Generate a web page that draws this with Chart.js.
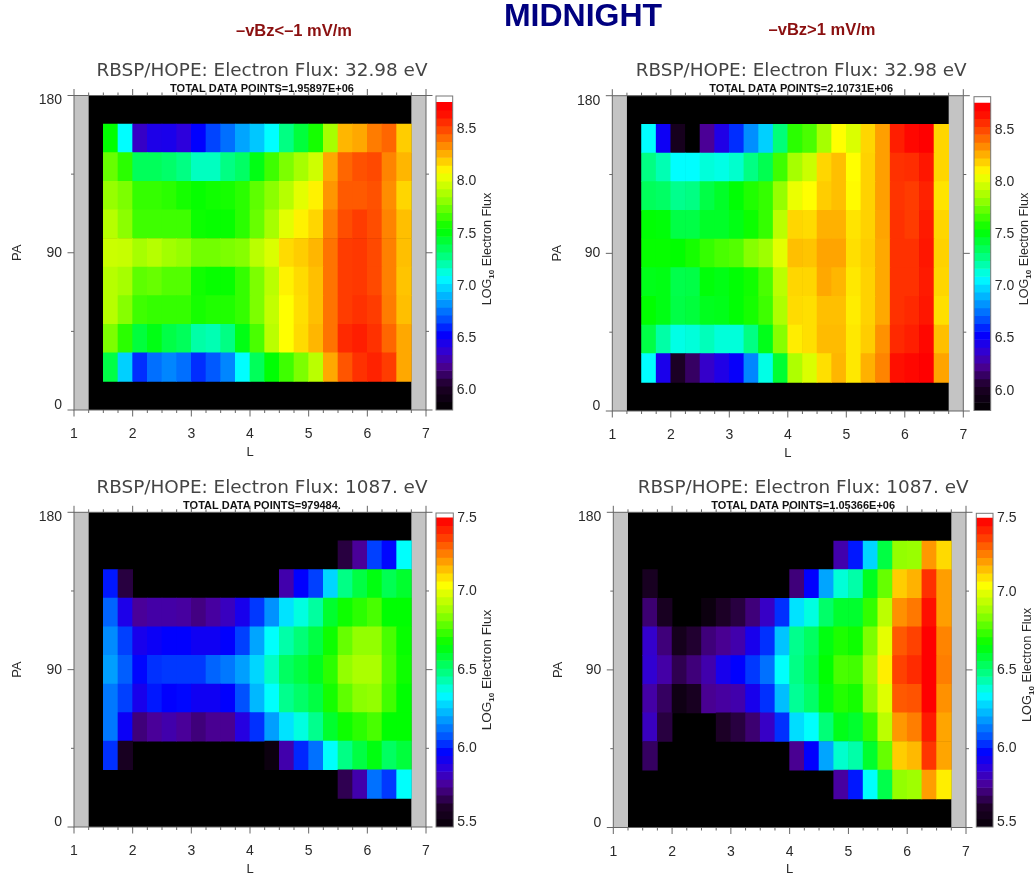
<!DOCTYPE html>
<html lang="en">
<head>
<meta charset="UTF-8">
<title>MIDNIGHT</title>
<script src="https://cdn.jsdelivr.net/npm/chart.js"></script>
<style>
    html, body { margin: 0; background: #fff; }
    #page { position: relative; width: 1034px; height: 876px; overflow: hidden; filter: blur(0.45px); }
    canvas { position: absolute; }
    .head { position: absolute; font-family: "Liberation Sans", sans-serif; font-weight: bold; white-space: nowrap; transform: translate(-50%, -50%); }
    .main { color: #000080; font-size: 32px; }
    .cond { color: #8b1010; font-size: 16.5px; }
</style>
</head>
<body>
<div id="page">
    <div class="head main" style="left:583px;top:15px">MIDNIGHT</div>
    <div class="head cond" style="left:294px;top:30px">–vBz&lt;–1 mV/m</div>
    <div class="head cond" style="left:822px;top:29px">–vBz&gt;1 mV/m</div>
</div>
<script>
const _ = null;

// bin centres in L, and lower PA edge of each row (rows below run from the top bin down)
const lCenters = [1.625, 1.875, 2.125, 2.375, 2.625, 2.875, 3.125, 3.375, 3.625, 3.875, 4.125, 4.375, 4.625, 4.875, 5.125, 5.375, 5.625, 5.875, 6.125, 6.375, 6.625];
const paEdges = [147.27, 130.91, 114.55, 98.18, 81.82, 65.45, 49.09, 32.73, 16.36];

// LOG10 flux, 32.98 eV, -vBz < -1
const fluxLowNeg = [
    [7.54, 7.08, 6.35, 6.45, 6.46, 6.40, 6.54, 6.66, 6.75, 6.87, 6.95, 7.08, 7.28, 7.42, 7.58, 7.87, 8.25, 8.28, 8.38, 8.43, 8.20],
    [7.74, 7.62, 7.36, 7.36, 7.33, 7.28, 7.18, 7.18, 7.28, 7.34, 7.50, 7.66, 7.78, 7.87, 7.97, 8.28, 8.43, 8.48, 8.50, 8.36, 8.25],
    [7.83, 7.78, 7.64, 7.64, 7.62, 7.58, 7.55, 7.57, 7.58, 7.62, 7.72, 7.81, 7.91, 8.02, 8.12, 8.32, 8.46, 8.46, 8.48, 8.34, 8.18],
    [7.91, 7.81, 7.66, 7.66, 7.66, 7.66, 7.56, 7.55, 7.55, 7.62, 7.74, 7.87, 8.02, 8.12, 8.18, 8.37, 8.49, 8.53, 8.49, 8.36, 8.23],
    [7.96, 7.95, 7.87, 7.91, 7.86, 7.83, 7.76, 7.76, 7.78, 7.80, 7.92, 8.00, 8.17, 8.20, 8.25, 8.40, 8.53, 8.54, 8.50, 8.37, 8.23],
    [7.91, 7.87, 7.72, 7.74, 7.70, 7.70, 7.57, 7.55, 7.55, 7.64, 7.78, 7.92, 8.12, 8.17, 8.23, 8.40, 8.53, 8.54, 8.50, 8.37, 8.22],
    [7.91, 7.80, 7.66, 7.64, 7.64, 7.64, 7.58, 7.60, 7.60, 7.64, 7.78, 7.94, 8.09, 8.16, 8.23, 8.40, 8.53, 8.56, 8.53, 8.38, 8.23],
    [7.78, 7.62, 7.42, 7.50, 7.40, 7.36, 7.22, 7.20, 7.28, 7.50, 7.68, 7.92, 8.09, 8.17, 8.25, 8.40, 8.58, 8.61, 8.56, 8.43, 8.28],
    [7.40, 6.97, 6.62, 6.75, 6.80, 6.75, 6.62, 6.70, 6.80, 7.08, 7.36, 7.53, 7.66, 7.78, 7.92, 8.28, 8.47, 8.56, 8.60, 8.53, 8.28]
];
// LOG10 flux, 32.98 eV, -vBz > 1
const fluxLowPos = [
    [7.08, 6.50, 5.98, 5.81, 6.24, 6.44, 6.62, 6.82, 6.97, 7.30, 7.62, 7.68, 7.87, 8.09, 8.00, 8.18, 8.30, 8.61, 8.67, 8.69, 8.18],
    [7.28, 7.20, 7.08, 7.08, 7.14, 7.12, 7.16, 7.28, 7.38, 7.66, 7.87, 7.96, 8.18, 8.23, 8.09, 8.19, 8.30, 8.56, 8.57, 8.63, 8.18],
    [7.36, 7.34, 7.26, 7.28, 7.40, 7.46, 7.53, 7.60, 7.64, 7.83, 8.04, 8.09, 8.20, 8.23, 8.10, 8.19, 8.30, 8.55, 8.53, 8.60, 8.15],
    [7.53, 7.52, 7.40, 7.40, 7.46, 7.46, 7.50, 7.56, 7.64, 7.92, 8.18, 8.17, 8.26, 8.26, 8.15, 8.19, 8.29, 8.56, 8.53, 8.62, 8.18],
    [7.55, 7.55, 7.54, 7.58, 7.64, 7.68, 7.70, 7.80, 7.85, 8.02, 8.23, 8.22, 8.29, 8.29, 8.16, 8.20, 8.28, 8.56, 8.56, 8.63, 8.19],
    [7.49, 7.50, 7.39, 7.40, 7.52, 7.50, 7.53, 7.57, 7.68, 7.92, 8.18, 8.18, 8.28, 8.25, 8.14, 8.19, 8.28, 8.56, 8.56, 8.62, 8.18],
    [7.54, 7.50, 7.40, 7.42, 7.48, 7.49, 7.53, 7.58, 7.66, 7.89, 8.17, 8.16, 8.23, 8.23, 8.13, 8.19, 8.28, 8.56, 8.58, 8.63, 8.16],
    [7.40, 7.22, 7.12, 7.14, 7.19, 7.14, 7.14, 7.28, 7.49, 7.80, 8.13, 8.16, 8.24, 8.24, 8.14, 8.20, 8.33, 8.58, 8.61, 8.67, 8.23],
    [7.08, 6.46, 6.02, 6.15, 6.36, 6.44, 6.52, 6.80, 7.12, 7.44, 7.89, 8.00, 8.16, 8.25, 8.14, 8.26, 8.36, 8.65, 8.67, 8.69, 8.29]
];
// LOG10 flux, 1087 eV, -vBz < -1
const fluxHighNeg = [
    [_, _, _, _, _, _, _, _, _, _, _, _, _, _, _, _, 5.66, 5.77, 6.05, 5.98, 6.35],
    [6.00, 5.66, _, _, _, _, _, _, _, _, _, _, 5.80, 5.97, 6.05, 6.28, 6.48, 6.57, 6.64, 6.55, 6.60],
    [6.10, 5.91, 5.77, 5.79, 5.79, 5.78, 5.74, 5.78, 5.83, 5.92, 6.04, 6.17, 6.30, 6.38, 6.45, 6.60, 6.68, 6.72, 6.76, 6.66, 6.66],
    [6.16, 6.05, 5.92, 5.95, 5.97, 5.97, 5.94, 5.94, 5.97, 6.05, 6.20, 6.35, 6.44, 6.50, 6.57, 6.68, 6.80, 6.86, 6.86, 6.76, 6.67],
    [6.19, 6.09, 5.98, 6.03, 6.04, 6.04, 6.04, 6.10, 6.13, 6.19, 6.28, 6.41, 6.53, 6.57, 6.62, 6.72, 6.86, 6.90, 6.90, 6.77, 6.68],
    [6.13, 6.05, 5.92, 6.00, 5.97, 5.98, 5.94, 5.94, 5.97, 6.07, 6.23, 6.35, 6.47, 6.52, 6.57, 6.69, 6.79, 6.85, 6.86, 6.75, 6.66],
    [6.13, 5.95, 5.73, 5.77, 5.80, 5.77, 5.73, 5.76, 5.76, 5.89, 6.03, 6.19, 6.30, 6.38, 6.47, 6.60, 6.68, 6.72, 6.76, 6.66, 6.66],
    [6.03, 5.60, _, _, _, _, _, _, _, _, _, 5.53, 5.80, 6.02, 6.12, 6.35, 6.48, 6.57, 6.64, 6.53, 6.58],
    [_, _, _, _, _, _, _, _, _, _, _, _, _, _, _, _, 5.68, 5.80, 6.12, 6.04, 6.35]
];
// LOG10 flux, 1087 eV, -vBz > 1
const fluxHighPos = [
    [_, _, _, _, _, _, _, _, _, _, _, _, _, 5.80, 6.00, 6.28, 6.57, 6.86, 6.87, 7.20, 7.10],
    [5.60, _, _, _, _, _, _, _, _, _, 5.73, 5.97, 6.20, 6.39, 6.44, 6.62, 6.80, 7.12, 7.16, 7.37, 7.19],
    [5.72, 5.60, _, _, 5.53, 5.62, 5.66, 5.73, 5.84, 6.03, 6.30, 6.38, 6.52, 6.60, 6.60, 6.73, 6.93, 7.21, 7.25, 7.43, 7.19],
    [5.85, 5.73, 5.58, 5.64, 5.73, 5.76, 5.80, 5.92, 6.03, 6.25, 6.47, 6.53, 6.64, 6.70, 6.68, 6.83, 7.00, 7.30, 7.34, 7.46, 7.23],
    [5.86, 5.79, 5.68, 5.73, 5.80, 5.92, 5.97, 6.04, 6.12, 6.35, 6.48, 6.55, 6.66, 6.76, 6.75, 6.88, 7.07, 7.34, 7.38, 7.46, 7.24],
    [5.79, 5.70, 5.55, 5.60, 5.76, 5.78, 5.80, 5.92, 6.03, 6.24, 6.46, 6.52, 6.64, 6.71, 6.69, 6.85, 6.99, 7.30, 7.31, 7.46, 7.21],
    [5.83, 5.66, _, _, _, 5.62, 5.66, 5.72, 5.84, 6.03, 6.29, 6.35, 6.50, 6.63, 6.60, 6.73, 6.93, 7.20, 7.24, 7.41, 7.18],
    [5.70, _, _, _, _, _, _, _, _, _, 5.76, 5.97, 6.20, 6.40, 6.44, 6.60, 6.80, 7.12, 7.15, 7.36, 7.18],
    [_, _, _, _, _, _, _, _, _, _, _, _, _, 5.78, 6.00, 6.35, 6.56, 6.86, 6.88, 7.19, 7.07]
];

// colour bar levels
const barLevelsLow = [5.848, 5.924, 6.0, 6.075, 6.151, 6.226, 6.302, 6.378, 6.453, 6.529, 6.605, 6.68, 6.756, 6.831, 6.907, 6.983, 7.058, 7.134, 7.21, 7.285, 7.361, 7.436, 7.512, 7.588, 7.663, 7.739, 7.815, 7.89, 7.966, 8.041, 8.117, 8.193, 8.268, 8.344, 8.42, 8.495, 8.571, 8.646, 8.722];
const barLevelsHigh = [5.525, 5.576, 5.626, 5.677, 5.727, 5.778, 5.828, 5.879, 5.929, 5.98, 6.03, 6.081, 6.131, 6.182, 6.232, 6.283, 6.333, 6.384, 6.434, 6.485, 6.535, 6.586, 6.636, 6.687, 6.737, 6.788, 6.838, 6.889, 6.939, 6.99, 7.04, 7.091, 7.141, 7.192, 7.242, 7.293, 7.343, 7.394, 7.444];

// rainbow + white colour table
const cmapStops = [0, 0.08, 0.146, 0.2, 0.248, 0.295, 0.363, 0.431, 0.492, 0.586, 0.685, 0.773, 0.814, 0.858, 0.922, 0.976];
const cmapColors = [[0, 0, 0], [30, 0, 40], [75, 0, 150], [45, 0, 220], [0, 0, 255], [0, 80, 255], [0, 170, 255], [0, 255, 255], [0, 255, 140], [0, 255, 0], [150, 255, 0], [255, 255, 0], [255, 200, 0], [255, 140, 0], [255, 60, 0], [255, 0, 0]];

function cmap(v, lo, hi) {
    const t = Math.min(Math.max((v - lo) / (hi - lo), 0), 1);
    let i = 0;
    while (i < cmapStops.length - 2 && t > cmapStops[i + 1]) i++;
    const f = Math.min((t - cmapStops[i]) / (cmapStops[i + 1] - cmapStops[i]), 1);
    const c = cmapColors[i].map((a, k) => Math.round(a + (cmapColors[i + 1][k] - a) * f));
    return `rgb(${c[0]},${c[1]},${c[2]})`;
}

const INK = '#2a2a2a';
const AXIS = '#666';
const FONT = '"Liberation Sans", sans-serif';

// Background, frame, outward ticks and y labels of a heat map
const heatFrame = {
    id: 'heatFrame',
    beforeDatasetsDraw(chart) {
        const { ctx, chartArea: a, scales: { x } } = chart;
        ctx.save();
        ctx.fillStyle = '#c4c4c4';
        ctx.fillRect(a.left, a.top, a.width, a.height);
        ctx.fillStyle = '#000';
        ctx.fillRect(x.getPixelForValue(1.25), a.top, x.getPixelForValue(6.75) - x.getPixelForValue(1.25), a.height);
        ctx.restore();
    },
    afterDatasetsDraw(chart) {
        const { ctx, chartArea: a, scales: { x, y } } = chart;
        ctx.save();
        ctx.strokeStyle = AXIS;
        ctx.lineWidth = 1;
        ctx.strokeRect(a.left, a.top, a.width, a.height);
        ctx.beginPath();
        x.ticks.forEach(t => {
            const px = x.getPixelForValue(t.value);
            const len = Number.isInteger(t.value) ? 6.5 : 3;
            ctx.moveTo(px, a.top); ctx.lineTo(px, a.top - len);
            ctx.moveTo(px, a.bottom); ctx.lineTo(px, a.bottom + len);
        });
        y.ticks.forEach(t => {
            const py = y.getPixelForValue(t.value);
            const len = t.value % 90 === 0 ? 6.5 : 3;
            ctx.moveTo(a.left, py); ctx.lineTo(a.left - len, py);
            ctx.moveTo(a.right, py); ctx.lineTo(a.right + len, py);
        });
        ctx.stroke();
        // 0 and 180 sit inside the axis ends, as in the plot
        ctx.fillStyle = INK;
        ctx.font = '14px ' + FONT;
        ctx.textAlign = 'right';
        ctx.textBaseline = 'middle';
        y.ticks.filter(t => t.value % 90 === 0).forEach(t => {
            const shift = t.value === 180 ? 5 : t.value === 0 ? -4.5 : 0;
            ctx.fillText(String(t.value), a.left - 12, y.getPixelForValue(t.value) + shift);
        });
        ctx.restore();
    }
};

// Frame, labels and rotated caption of a colour bar
const barFrame = {
    id: 'barFrame',
    afterDatasetsDraw(chart, args, opts) {
        const { ctx, chartArea: a, scales: { y } } = chart;
        ctx.save();
        ctx.strokeStyle = '#777';
        ctx.strokeRect(a.left, a.top, a.width, a.height);
        ctx.fillStyle = INK;
        ctx.font = '14px ' + FONT;
        ctx.textAlign = 'left';
        ctx.textBaseline = 'middle';
        y.ticks.forEach(t => {
            const shift = t.value === y.max ? 5 : t.value === y.min ? -5 : 0;
            ctx.fillText(t.value.toFixed(1), a.right + 4, y.getPixelForValue(t.value) + shift);
        });
        ctx.translate(opts.captionX, opts.captionY);
        ctx.rotate(-Math.PI / 2);
        ctx.textAlign = 'left';
        ctx.textBaseline = 'alphabetic';
        const big = opts.captionSize + 'px ';
        const parts = [['LOG', big, 0], ['10', 'bold 8px ', 3], [' Electron Flux', big, 0]];
        let total = 0;
        parts.forEach(([text, font]) => {
            ctx.font = font + FONT;
            total += ctx.measureText(text).width;
        });
        let cx = -total / 2;
        parts.forEach(([text, font, drop]) => {
            ctx.font = font + FONT;
            ctx.fillText(text, cx, 4 + drop);
            cx += ctx.measureText(text).width;
        });
        ctx.restore();
    }
};

function addCanvas(left, top, width, height) {
    const c = document.createElement('canvas');
    c.width = width;
    c.height = height;
    c.style.left = left + 'px';
    c.style.top = top + 'px';
    document.getElementById('page').appendChild(c);
    return c;
}

function drawHeatMap(p) {
    const canvasLeft = Math.floor(p.left) - 64;
    const canvasTop = Math.floor(p.top) - 40;
    const canvasBottom = Math.ceil(p.bottom) + 52;
    const canvas = addCanvas(canvasLeft, canvasTop, Math.round(2 * p.titleX - 2 * canvasLeft), canvasBottom - canvasTop);
    const cells = [];
    p.rows.forEach((row, r) => row.forEach((v, c) => {
        if (v !== null) cells.push({ x: lCenters[c], y: [paEdges[r], paEdges[r] + 16.36], v });
    }));
    new Chart(canvas, {
        type: 'bar',
        data: { datasets: [{
            data: cells,
            backgroundColor: ctx => cmap(ctx.raw.v, p.lo, p.hi),
            borderWidth: 0,
            barPercentage: 1,
            categoryPercentage: 1,
            grouped: false
        }] },
        plugins: [heatFrame],
        options: {
            responsive: false,
            animation: false,
            events: [],
            layout: {
                autoPadding: false,
                padding: {
                    left: p.left - canvasLeft - 64,
                    top: p.top - canvasTop - 34,
                    right: 0,
                    bottom: canvasBottom - p.bottom - 50
                }
            },
            plugins: {
                legend: { display: false },
                tooltip: { enabled: false },
                title: {
                    display: true, text: p.title, color: '#444',
                    font: { family: '"DejaVu Sans", sans-serif', size: 18.4, weight: 'normal', lineHeight: '20px' },
                    padding: { top: 0, bottom: 2 }
                },
                subtitle: {
                    display: true, text: p.points, color: '#111',
                    font: { family: FONT, size: 11, weight: 'bold', lineHeight: '11px' },
                    padding: { top: 0, bottom: 1 }
                }
            },
            scales: {
                x: {
                    type: 'linear', min: 1, max: 7, offset: false,
                    afterFit: s => { s.height = 50; },
                    grid: { display: false }, border: { display: false },
                    ticks: {
                        stepSize: 0.25, autoSkip: false, maxRotation: 0, padding: 8, color: INK,
                        font: { family: FONT, size: 14 },
                        callback: v => Number.isInteger(v) ? String(v) : ''
                    },
                    title: { display: true, text: 'L', color: INK, font: { family: FONT, size: 13, lineHeight: '14px' }, padding: 1 }
                },
                y: {
                    type: 'linear', min: 0, max: 180,
                    afterFit: s => { s.width = 64; },
                    grid: { display: false }, border: { display: false },
                    ticks: { stepSize: 45, display: false },
                    title: { display: true, text: 'PA', color: INK, font: { family: FONT, size: 13, lineHeight: '14px' }, padding: p.paPad }
                },
                // empty axis that keeps room for the colour bar, so the titles centre on the whole block
                spare: {
                    type: 'linear', axis: 'y', position: 'right',
                    afterFit: s => { s.width = canvas.width - (p.right - canvasLeft); },
                    grid: { display: false }, border: { display: false },
                    ticks: { display: false }
                }
            }
        }
    });
}

function drawColorBar(p) {
    const b = p.bar;
    const canvasLeft = Math.floor(b.left) - 4;
    const canvasTop = Math.floor(b.top) - 6;
    const canvasRight = Math.min(1034, Math.ceil(b.right) + 48);
    const canvasBottom = Math.ceil(b.bottom) + 6;
    const canvas = addCanvas(canvasLeft, canvasTop, canvasRight - canvasLeft, canvasBottom - canvasTop);
    new Chart(canvas, {
        type: 'bar',
        data: { datasets: [{
            data: b.levels.map(v => ({ y: v, x: [0, 1] })),
            backgroundColor: ctx => cmap(ctx.raw.y, p.lo, p.hi),
            borderWidth: 0,
            barPercentage: 1,
            categoryPercentage: 1,
            grouped: false
        }] },
        plugins: [barFrame],
        options: {
            indexAxis: 'y',
            responsive: false,
            animation: false,
            events: [],
            layout: {
                autoPadding: false,
                padding: {
                    left: b.left - canvasLeft,
                    top: b.top - canvasTop,
                    right: canvasRight - b.right,
                    bottom: canvasBottom - b.bottom
                }
            },
            plugins: {
                legend: { display: false },
                tooltip: { enabled: false },
                barFrame: { captionX: b.captionX - canvasLeft, captionY: b.captionY - canvasTop, captionSize: b.captionSize }
            },
            scales: {
                x: { type: 'linear', min: 0, max: 1, display: false, offset: false },
                y: {
                    type: 'linear', min: b.min, max: b.max, offset: false,
                    afterFit: s => { s.width = 0; },
                    grid: { display: false }, border: { display: false },
                    ticks: { stepSize: 0.5, includeBounds: false, display: false }
                }
            }
        }
    });
}

// plot geometry, one entry per panel
const panels = [
    { rows: fluxLowNeg, title: 'RBSP/HOPE: Electron Flux: 32.98 eV', points: 'TOTAL DATA POINTS=1.95897E+06', lo: 5.81, hi: 8.76,
      left: 74, right: 426, top: 95.5, bottom: 410, titleX: 262, paPad: 0,
      bar: { levels: barLevelsLow, min: 5.81, max: 8.82, left: 436, right: 452.7, top: 96, bottom: 410, captionX: 486.7, captionY: 249, captionSize: 12.6 } },
    { rows: fluxLowPos, title: 'RBSP/HOPE: Electron Flux: 32.98 eV', points: 'TOTAL DATA POINTS=2.10731E+06', lo: 5.81, hi: 8.76,
      left: 612.3, right: 963.3, top: 95.7, bottom: 411, titleX: 801, paPad: 2,
      bar: { levels: barLevelsLow, min: 5.81, max: 8.82, left: 974, right: 990.7, top: 96.7, bottom: 410.5, captionX: 1024, captionY: 249, captionSize: 12.6 } },
    { rows: fluxHighNeg, title: 'RBSP/HOPE: Electron Flux: 1087. eV', points: 'TOTAL DATA POINTS=979484.', lo: 5.467, hi: 7.507,
      left: 74, right: 426, top: 512.3, bottom: 827, titleX: 262, paPad: 0,
      bar: { levels: barLevelsHigh, min: 5.5, max: 7.5, left: 436, right: 453.3, top: 513, bottom: 827, captionX: 486.7, captionY: 670, captionSize: 13.6 } },
    { rows: fluxHighPos, title: 'RBSP/HOPE: Electron Flux: 1087. eV', points: 'TOTAL DATA POINTS=1.05366E+06', lo: 5.467, hi: 7.507,
      left: 613.3, right: 966, top: 512.3, bottom: 827.5, titleX: 803, paPad: 2,
      bar: { levels: barLevelsHigh, min: 5.5, max: 7.5, left: 976.3, right: 993, top: 513.3, bottom: 827, captionX: 1026.7, captionY: 665, captionSize: 12.8 } }
];

panels.forEach(p => {
    drawHeatMap(p);
    drawColorBar(p);
});
</script>
</body>
</html>
